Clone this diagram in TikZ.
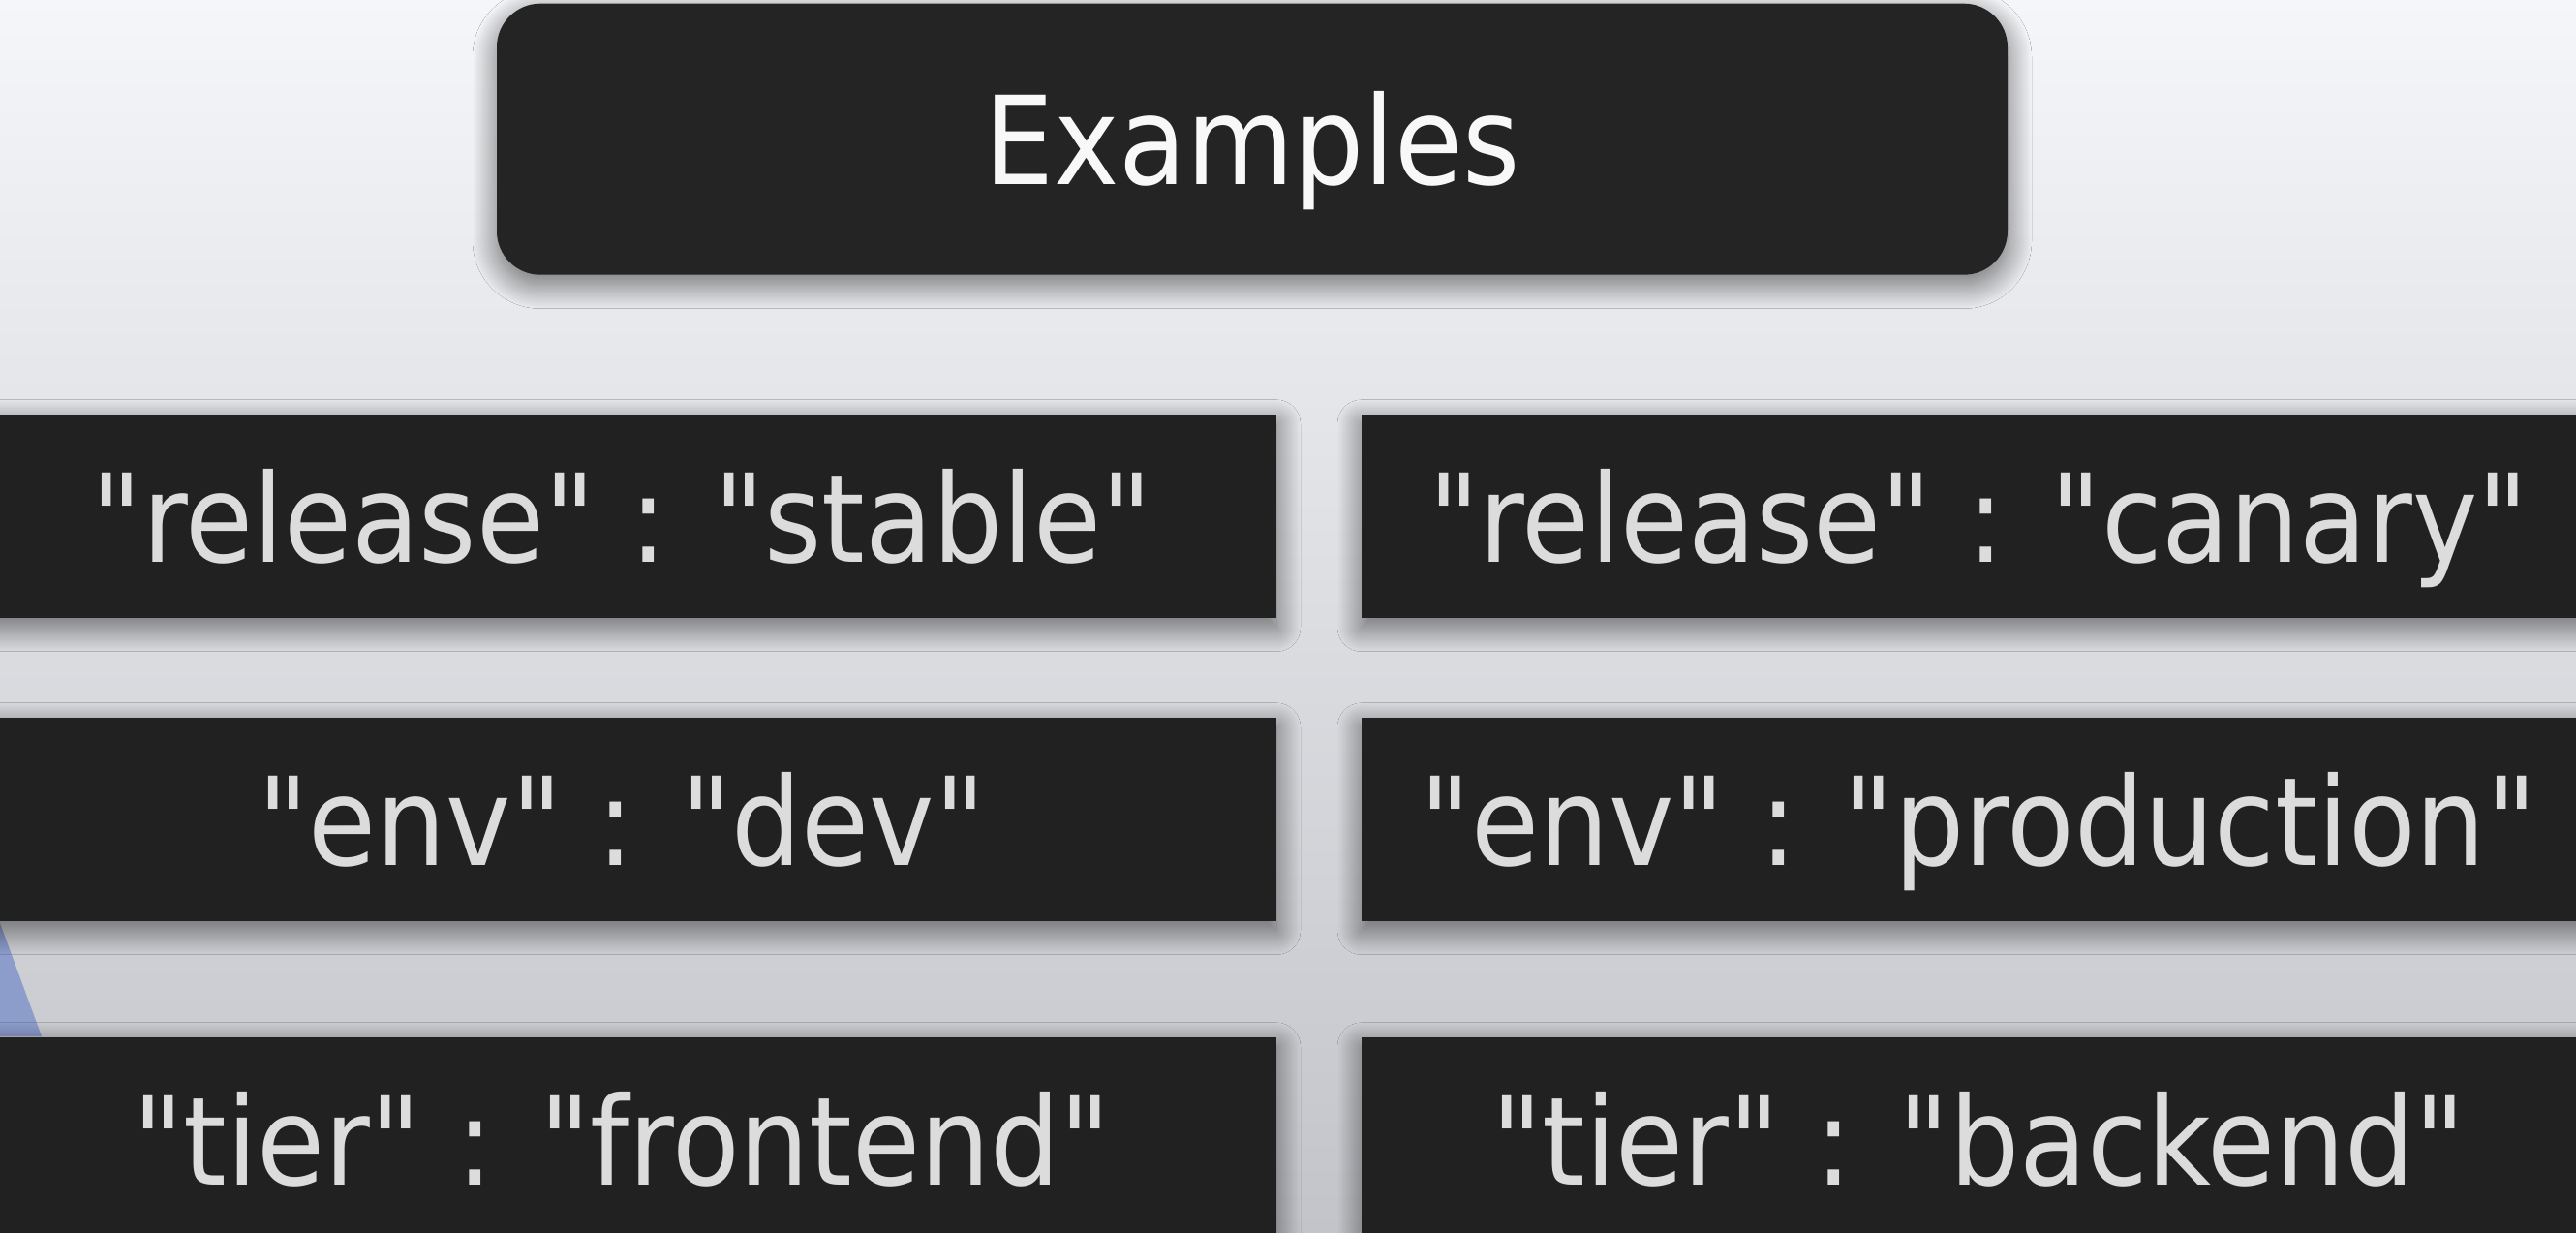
\documentclass[tikz,border=0pt]{standalone}
\usepackage{fontspec}
\setmainfont{DejaVu Sans Condensed}[Ligatures=TeXOff]
\usepackage{xcolor}
\definecolor{bgtop}{HTML}{F5F6F9}
\definecolor{bgmid}{HTML}{DCDDE2}
\definecolor{bgbottom}{HTML}{C3C4C9}
\definecolor{boxfill}{HTML}{212122}
\definecolor{titlefill}{HTML}{242425}
\definecolor{keytext}{HTML}{DCDCDC}
\definecolor{titletext}{HTML}{F8F8F8}
\definecolor{cornerblue}{HTML}{8C9CCB}
\usepackage{tikz}
\usetikzlibrary{shadows.blur}

\begin{document}
\begin{tikzpicture}[
            x=1cm,y=1cm,
            bigfont/.style={font=\fontsize{36}{40}\selectfont},
            softshadow/.style={blur shadow={shadow xshift=0pt, shadow yshift=-0.1cm, shadow blur radius=0.25cm,
                shadow blur steps=30, shadow opacity=55}},
            titlebox/.style={bigfont, fill=titlefill, text=titletext, rounded corners=0.45cm, inner sep=0pt,
                minimum width=15.6cm, text height=1.87cm, text depth=0.93cm, softshadow},
            keybox/.style={bigfont, fill=boxfill, text=keytext, inner sep=0pt, anchor=north,
                text height=1.53cm, text depth=0.57cm, softshadow},
            leftkey/.style={keybox, minimum width=13.52cm},
            rightkey/.style={keybox, minimum width=12.74cm}
        ]
            % background
            \useasboundingbox (0,0) rectangle (26.6,12.72);
            \shade[top color=bgtop, middle color=bgmid, bottom color=bgbottom] (0,0) rectangle (26.6,12.72);
            \fill[cornerblue] (0,3.19) -- (0.43,2.02) -- (0,2.02) -- cycle;

            % heading
            \node[titlebox, anchor=north] (title) at (12.93,12.69) {Examples};

            % key : value pairs
            \node[leftkey] (relstable) at (6.42,8.45) {"release" : "stable"};
            \node[rightkey] (relcanary) at (20.43,8.45) {"release" : "canary"};
            \node[leftkey] (envdev) at (6.42,5.32) {"env" : "dev"};
            \node[rightkey] (envprod) at (20.43,5.32) {"env" : "production"};
            \node[leftkey] (tierfront) at (6.42,2.02) {"tier" : "frontend"};
            \node[rightkey] (tierback) at (20.43,2.02) {"tier" : "backend"};
        \end{tikzpicture}
\end{document}
